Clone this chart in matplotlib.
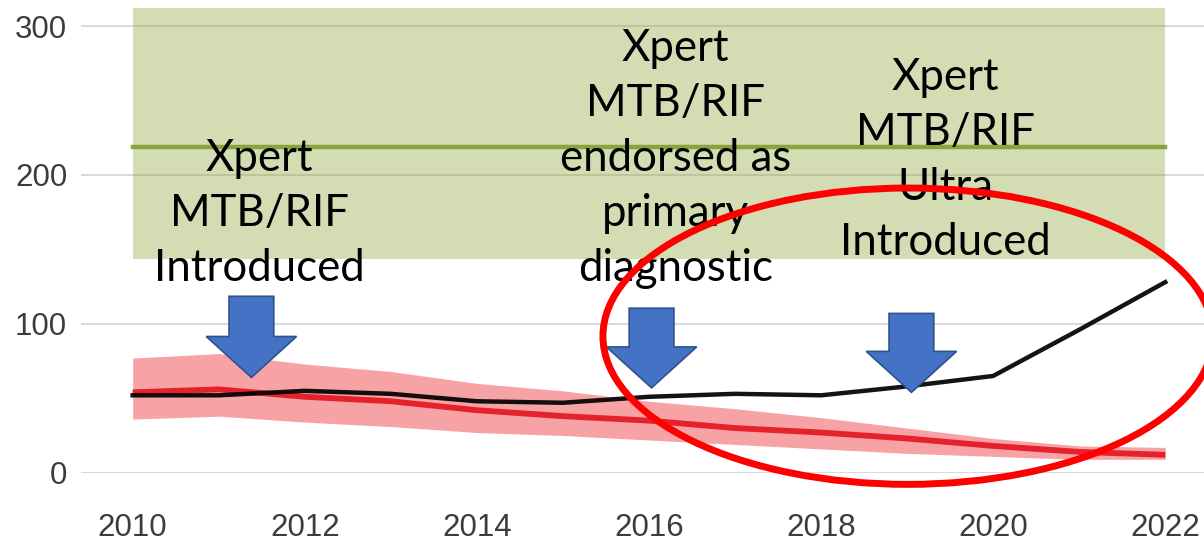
import matplotlib
matplotlib.use("Agg")
import matplotlib.pyplot as plt
from matplotlib.patches import Ellipse, Polygon

# ---- data ----
years = [2010, 2011, 2012, 2013, 2014, 2015, 2016, 2017, 2018, 2019, 2020, 2021, 2022]
notified = [52, 52, 55, 53, 48, 47, 51, 53, 52, 58, 65, 96, 128]
estimate = [54, 56, 51, 48, 42, 38, 35, 30, 27, 23, 18, 14, 12]
estimate_hi = [77, 80, 73, 68, 60, 55, 48, 43, 37, 30, 23, 18, 17]
estimate_lo = [36, 38, 34, 31, 27, 25, 22, 19, 16, 13, 11, 9, 9]

target_years = [2010, 2022]
target_mid = 219
target_lo = 143.5
target_hi = 312

yticks = [0, 100, 200, 300]
xticks = [2010, 2012, 2014, 2016, 2018, 2020, 2022]

notes = [
    ("Xpert\nMTB/RIF\nIntroduced", 2011.47, 174),
    ("Xpert\nMTB/RIF\nendorsed as\nprimary\ndiagnostic", 2016.31, 211),
    ("Xpert\nMTB/RIF\nUltra\nIntroduced", 2019.45, 210),
]
# arrow tips (year, value) and top of shaft
arrows = [(2011.38, 64, 118.5), (2016.03, 57, 110.5), (2019.05, 54, 107)]

fig = plt.figure(figsize=(12.04, 5.44), dpi=100)
ax = fig.add_axes([0.0673, 0.131, 0.9327, 0.854])

# target band
ax.fill_between(target_years, target_lo, target_hi, color="#91a841", alpha=0.4,
                linewidth=0, zorder=2)
ax.plot(target_years, [target_mid, target_mid], color="#8aa33a", lw=3.2, zorder=3)

# estimate and uncertainty
ax.fill_between(years, estimate_lo, estimate_hi, color="#f7a3a6", linewidth=0, zorder=2)
ax.plot(years, estimate, color="#e5222b", lw=4.2, zorder=3, solid_capstyle="butt")
ax.plot(years, notified, color="#000000", lw=3.2, alpha=0.92, zorder=4)

ax.set_xlim(2009.4, 2022.45)
ax.set_ylim(0, 312)
ax.set_yticks(yticks)
ax.set_xticks(xticks)
ax.grid(axis="y", color="#d6d6d6", lw=1.3, zorder=1)
ax.set_axisbelow(True)
for s in ax.spines.values():
    s.set_visible(False)
ax.tick_params(length=0, labelsize=22.5, labelcolor="#3c3c3c")
ax.tick_params(axis="x", pad=29)
ax.tick_params(axis="y", pad=10)
for lab in ax.get_xticklabels() + ax.get_yticklabels():
    lab.set_family("Liberation Sans")

# block arrows
for xt, yt, ytop in arrows:
    sw, hw, hh = 0.26, 0.525, 27.5
    pts = [(xt, yt), (xt - hw, yt + hh), (xt - sw, yt + hh), (xt - sw, ytop),
           (xt + sw, ytop), (xt + sw, yt + hh), (xt + hw, yt + hh)]
    ax.add_patch(Polygon(pts, closed=True, facecolor="#4472c4", edgecolor="#2f528f",
                         lw=1.2, zorder=6))

for txt, x, y in notes:
    ax.text(x, y, txt, ha="center", va="center", fontsize=31.5, family="Lato",
            color="black", linespacing=1.42, zorder=7)

ax.add_patch(Ellipse((2019.01, 91.7), 7.09, 199, fill=False, edgecolor="#ff0000",
                     lw=5, zorder=8, clip_on=False))

fig.savefig("out.png", dpi=100)
